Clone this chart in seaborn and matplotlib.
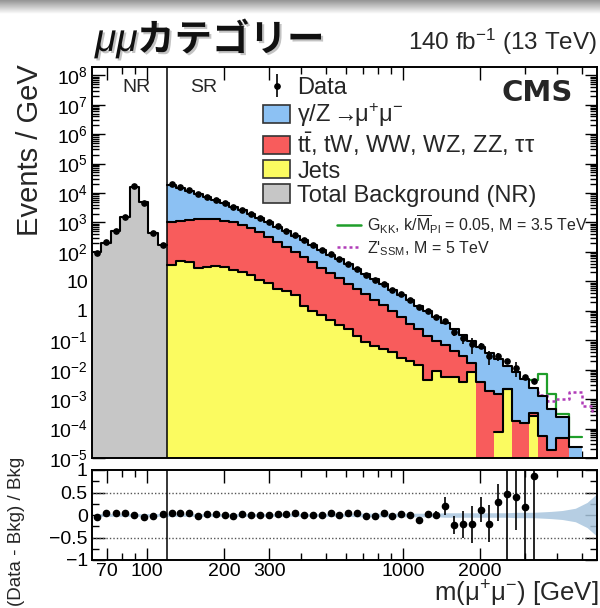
import numpy as np
import matplotlib
matplotlib.use("Agg")
import matplotlib.pyplot as plt
import seaborn as sns
from matplotlib import ticker
from matplotlib.patches import Patch
from matplotlib.lines import Line2D
import matplotlib.patheffects as pe

# ---------------- binning (GeV) ----------------
NR_EDGES = np.geomspace(61, 120, 9)                                       # normalisation region
SR_EDGES = np.concatenate([np.geomspace(120, 3950, 45), [4450, 5000, 5500, 6000]])  # signal region

# ---------------- normalisation region (Events / GeV) ----------------
nr_bkg = [98, 204, 501, 1510, 16600, 4900, 447, 166]
nr_ratio = [-0.05, 0.04, 0.05, 0.04, 0.01, -0.05, -0.03, 0.025]
nr_ratio_err = [0.01, 0.01, 0.01, 0.005, 0.003, 0.005, 0.01, 0.01]
nr_band = [0.03, 0.03, 0.03, 0.03, 0.03, 0.03, 0.03, 0.03]

# ---------------- signal region: stacked heights (Events / GeV) ----------------
# each level contains the contributions drawn below it
level_dy = [19100, 15100, 12000, 9300, 7200, 5600, 4400, 3400, 2600, 1900,
            1380, 1000, 710, 500, 355, 245, 170, 117, 81, 56,
            38, 25.7, 17.4, 11.7, 7.9, 5.2, 3.5, 2.3, 1.48, 0.95,
            0.62, 0.39, 0.245, 0.155, 0.095, 0.059, 0.036, 0.0224, 0.0135, 0.0083,
            0.0048, 0.0023, 0.0013, 0.00046, 0.00024, 0.000023, 0, 0]
level_top = [1020, 1120, 1200, 1260, 1290, 1260, 1150, 1000, 810, 630,
             480, 330, 224, 151, 100, 66, 44, 29, 19, 12.6,
             8.3, 5.5, 3.6, 2.4, 1.58, 1.0, 0.60, 0.355, 0.24, 0.141,
             0.095, 0.071, 0.042, 0.028, 0.0166, 0.0037, 0.0019, 0.00148, 0.00224, 0.000175,
             0.000155, 0.00033, 0.0000575, 0.000019, 0.000048, 0, 0, 0]
level_jets = [35, 48, 44, 29, 30, 32, 29.5, 25, 21, 15.8,
              11.2, 8.9, 5.6, 4.6, 3.5, 1.41, 1.0, 0.71, 0.50, 0.32,
              0.25, 0.141, 0.085, 0.063, 0.050, 0.040, 0.025, 0.0204, 0.0141, 0.0043,
              0.0093, 0.0058, 0.0058, 0.0037, 0.0081, 0, 0, 0.000074, 0.00224, 0,
              0, 0.00027, 0, 0, 0, 0, 0, 0]

# signal expectations (Events / GeV)
gkk_signal = [0] * 41 + [0.0043, 0.0071, 0.00148, 0.00031, 0.00005, 0, 0]
zprime_signal = [0] * 41 + [0.0024, 0.0014, 0.00089, 0.001, 0.0017, 0.0006, 0.0004]

# (Data - Bkg) / Bkg in the signal region (bins with observed events)
sr_ratio = [0.04, 0.05, 0.05, -0.03, 0.025, 0.025, 0.0, -0.025, 0.025, 0.01,
            0.01, 0.01, 0.025, 0.025, 0.04, 0.0, 0.0, -0.01, 0.05, 0.0,
            0.05, 0.05, -0.03, -0.03, 0.05, -0.025, 0.025, -0.01, -0.12, 0.025,
            0.01, 0.19, -0.23, -0.21, -0.21, 0.12, -0.19, 0.28, 0.46, 0.41,
            0.17, 0.86]
sr_ratio_err = [0.005, 0.005, 0.005, 0.005, 0.006, 0.006, 0.007, 0.007, 0.008, 0.009,
                0.01, 0.01, 0.012, 0.013, 0.015, 0.016, 0.018, 0.02, 0.02, 0.022,
                0.025, 0.028, 0.03, 0.033, 0.036, 0.04, 0.042, 0.045, 0.05, 0.07,
                0.09, 0.2, 0.2, 0.3, 0.42, 0.28, 0.42, 0.42, 1.6, 0.74,
                1.3, 1.9]
sr_band = [0.03] * 21 + [0.04] * 10 + [0.05] * 8 + [0.06] * 3 + [0.07, 0.08, 0.1, 0.15, 0.28, 0.48]

# ---------------- derived helpers ----------------
nr_centers = np.sqrt(NR_EDGES[:-1] * NR_EDGES[1:])
sr_centers = np.sqrt(SR_EDGES[:-1] * SR_EDGES[1:])
level_dy = np.array(level_dy, float)
n_obs = len(sr_ratio)
FLOOR = 1e-9  # fill baseline below the visible range of the log axis

C_DY = "#8cc1f3"
C_TOP = "#f85c5c"
C_JETS = "#fbfb60"
C_NR = "#c6c6c6"
C_GKK = "#1f9e2a"
C_ZP = "#b03cb8"

sns.set_theme(style="ticks")
plt.rcParams["font.family"] = ["Liberation Sans", "DejaVu Sans"]
plt.rcParams["mathtext.fontset"] = "custom"
plt.rcParams["mathtext.rm"] = "Liberation Sans"
plt.rcParams["mathtext.it"] = "Liberation Sans:italic"
plt.rcParams["mathtext.bf"] = "Liberation Sans:bold"
plt.rcParams["axes.linewidth"] = 1.4
plt.rcParams["axes.edgecolor"] = "black"

W, H = 600, 608
fig = plt.figure(figsize=(W / 100, H / 100), dpi=100)


def fx(px):
    return px / W


def fy(py):
    return 1 - py / H


ax = fig.add_axes([fx(92), fy(458), fx(597) - fx(92), fy(67) - fy(458)])
rax = fig.add_axes([fx(92), fy(560), fx(597) - fx(92), fy(470) - fy(560)])

nr_logbins = list(np.log10(NR_EDGES))
sr_logbins = list(np.log10(SR_EDGES))
hist_kw = dict(stat="count", log_scale=(True, True), ax=ax, element="step", fill=False)

# signal shapes sit beneath the background stack
sns.histplot(x=sr_centers, weights=gkk_signal, bins=sr_logbins,
             color=C_GKK, linewidth=1.6, zorder=1, **hist_kw)
sns.histplot(x=sr_centers, weights=zprime_signal, bins=sr_logbins,
             color=C_ZP, linewidth=1.8, linestyle=(0, (1.2, 1.2)), zorder=1, **hist_kw)

# stacked background levels: filled areas, then black step outlines
stack = [(sr_centers, list(level_dy), SR_EDGES, sr_logbins, C_DY),
         (sr_centers, level_top, SR_EDGES, sr_logbins, C_TOP),
         (sr_centers, level_jets, SR_EDGES, sr_logbins, C_JETS),
         (nr_centers, nr_bkg, NR_EDGES, nr_logbins, C_NR)]
for xs, level, edges, bins, colour in stack:
    filled = np.maximum(np.asarray(level, float), FLOOR)
    ax.stairs(filled, edges, baseline=FLOOR, fill=True, color=colour, linewidth=0, zorder=2)
for xs, level, edges, bins, colour in stack:
    sns.histplot(x=xs, weights=level, bins=bins, color="black", linewidth=1.5, zorder=3, **hist_kw)

# observed data
obs_x = np.concatenate([nr_centers, sr_centers[:n_obs]])
obs_bkg = np.concatenate([np.array(nr_bkg, float), level_dy[:n_obs]])
obs_ratio = np.array(nr_ratio + sr_ratio)
obs_ratio_err = np.array(nr_ratio_err + sr_ratio_err)
obs_y = obs_bkg * (1 + obs_ratio)
obs_err = obs_bkg * obs_ratio_err
data_handle = ax.errorbar(obs_x, obs_y, yerr=obs_err, fmt="o", color="black", markersize=3.8,
                          elinewidth=1.2, capsize=0, zorder=5)

ax.axvline(120, color="black", linewidth=1.1, zorder=6)
ax.set_xlim(61, 5730)
ax.set_ylim(1e-5, 1.9e8)
ax.set_xlabel("")
ax.set_ylabel("")


def decade_label(v, pos):
    e = int(round(np.log10(v)))
    if e == 0:
        return "1"
    if e == 1:
        return "10"
    return r"$10^{%d}$" % e


ax.yaxis.set_major_locator(ticker.FixedLocator(10.0 ** np.arange(-5, 9)))
ax.yaxis.set_minor_locator(ticker.LogLocator(base=10, subs=np.arange(2, 10), numticks=200))
ax.yaxis.set_major_formatter(ticker.FuncFormatter(decade_label))
ax.yaxis.set_minor_formatter(ticker.NullFormatter())

rax.set_xscale("log")
rax.set_xlim(61, 5730)
major_x = [70, 100, 200, 300, 1000, 2000]
minor_x = [80, 90, 400, 500, 600, 700, 800, 900, 3000, 4000, 5000]
for a in (ax, rax):
    a.xaxis.set_major_locator(ticker.FixedLocator(major_x))
    a.xaxis.set_minor_locator(ticker.FixedLocator(minor_x))
    a.tick_params(axis="both", which="both", direction="in", top=True, right=True,
                  colors="black", width=1.0, labelsize=14, pad=3)
    a.tick_params(axis="both", which="major", length=9)
    a.tick_params(axis="both", which="minor", length=5)
ax.xaxis.set_major_formatter(ticker.NullFormatter())
ax.xaxis.set_minor_formatter(ticker.NullFormatter())
rax.xaxis.set_major_formatter(ticker.FixedFormatter([str(v) for v in major_x]))
rax.xaxis.set_minor_formatter(ticker.NullFormatter())
rax.tick_params(axis="x", pad=2)

# ---------------- ratio panel ----------------
band_x = np.concatenate([nr_centers, sr_centers])
band_w = np.array(nr_band + sr_band)
rax.fill_between(band_x, -band_w, band_w, color="#a9c6de", alpha=0.85, linewidth=0, zorder=1)
for yv in (0.5, -0.5):
    rax.axhline(yv, color="#555555", linestyle=(0, (1, 1.5)), linewidth=1.0, zorder=1)
rax.errorbar(obs_x, obs_ratio, yerr=obs_ratio_err, fmt="o", color="black", markersize=4.5,
             elinewidth=1.2, capsize=0, zorder=4)
rax.axvline(120, color="black", linewidth=1.1, zorder=5)
rax.set_ylim(-1, 1)
rax.yaxis.set_major_locator(ticker.FixedLocator([-1, -0.5, 0, 0.5, 1]))
rax.yaxis.set_major_formatter(ticker.FixedFormatter(["\u22121", "\u22120.5", "0", "0.5", "1"]))
rax.yaxis.set_minor_locator(ticker.FixedLocator([-0.75, -0.25, 0.25, 0.75]))

# ---------------- legends ----------------
patch_kw = dict(edgecolor="#333333", linewidth=1.2)
handles1 = [data_handle,
            Patch(facecolor=C_DY, **patch_kw),
            Patch(facecolor=C_TOP, **patch_kw),
            Patch(facecolor=C_JETS, **patch_kw),
            Patch(facecolor=C_NR, **patch_kw)]
labels1 = ["Data",
           r"γ/Z $\!\!\rightarrow\!\!\mathrm{\mu^{+}\mu^{-}}$",
           r"$\mathrm{t\bar{t}}$, tW, WW, WZ, ZZ, ττ",
           "Jets",
           "Total Background (NR)"]
leg1 = ax.legend(handles1, labels1, loc="upper left", bbox_to_anchor=(fx(263), fy(77)),
                 bbox_transform=fig.transFigure, frameon=False, borderpad=0, borderaxespad=0,
                 handlelength=1.15, handleheight=0.8, handletextpad=0.3, labelspacing=0.08,
                 fontsize=17)
ax.add_artist(leg1)
handles2 = [Line2D([], [], color=C_GKK, linewidth=1.8),
            Line2D([], [], color=C_ZP, linewidth=1.8, linestyle=(0, (1.2, 1.2)))]
labels2 = [r"G$_{\mathrm{KK}}$, k/$\overline{\mathrm{M}}_{\mathrm{Pl}}$ = 0.05, M = 3.5 TeV",
           r"Z'$_{\mathrm{SSM}}$, M = 5 TeV"]
ax.legend(handles2, labels2, loc="upper left", bbox_to_anchor=(fx(337), fy(213)),
          bbox_transform=fig.transFigure, frameon=False, borderpad=0, borderaxespad=0,
          handlelength=1.5, handletextpad=0.35, labelspacing=0.2, fontsize=11.5)

# ---------------- texts ----------------
fig.text(fx(537), fy(93), "CMS", family="DejaVu Sans", weight="bold", fontsize=21,
         ha="center", va="center")
fig.text(fx(136), fy(88), "NR", fontsize=14, ha="center", va="center")
fig.text(fx(204), fy(88), "SR", fontsize=14, ha="center", va="center")
fig.text(fx(597), fy(42), r"140 fb$^{-1}$ (13 TeV)", fontsize=17.5, ha="right", va="center")
fig.text(fx(30), fy(150), "Events / GeV", fontsize=21, rotation=90, ha="center", va="center")
fig.text(fx(17), fy(531), "(Data - Bkg) / Bkg", fontsize=13.5, rotation=90, ha="center", va="center")
fig.text(fx(598), fy(594), r"m($\mathrm{\mu^{+}\mu^{-}}$) [GeV]", fontsize=18.5, ha="right", va="center")

shadow = [pe.SimplePatchShadow(offset=(1.5, -1.5), shadow_rgbFace="#888888", alpha=0.5), pe.Normal()]
fig.text(fx(95), fy(51), r"$\mu\mu$", fontsize=28, ha="left", va="baseline", color="#111111",
         path_effects=shadow)
fig.text(fx(137), fy(51), "カテゴリー", family=["Noto Sans CJK JP", "DejaVu Sans"], fontsize=27,
         weight="bold", ha="left", va="baseline", color="#111111", path_effects=shadow)

# grey band along the top edge
gax = fig.add_axes([0, fy(14), 1, fy(0) - fy(14)])
grad = np.linspace(0.58, 1.0, 64).reshape(-1, 1)
gax.imshow(grad, cmap="gray", vmin=0, vmax=1, aspect="auto", extent=(0, 1, 0, 1), origin="upper")
gax.set_axis_off()

fig.savefig("out.png", dpi=100)
